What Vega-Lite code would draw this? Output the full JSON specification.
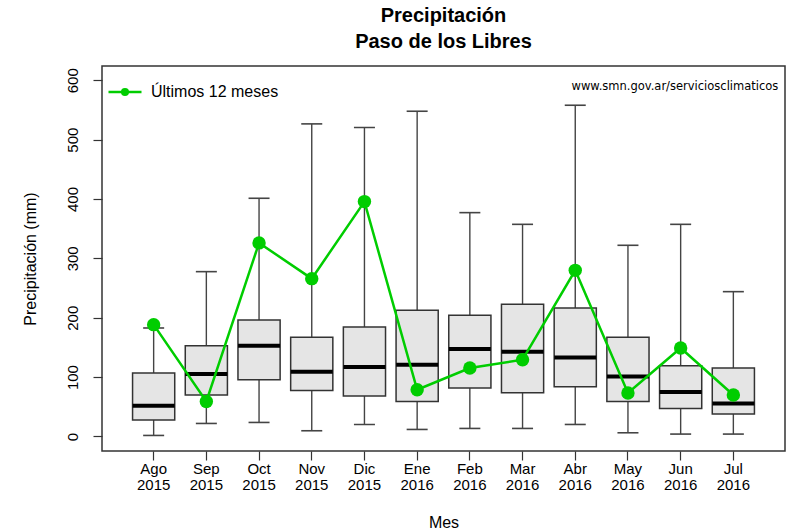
{
  "$schema": "https://vega.github.io/schema/vega-lite/v6.json",
  "width": 683,
  "height": 385,
  "autosize": {"type": "none"},
  "padding": {"left": 102, "top": 66, "right": 11, "bottom": 81},
  "background": "white",
  "config": {
    "font": "Liberation Sans",
    "view": {"stroke": "#333333", "strokeWidth": 1.5},
    "axis": {"labelColor": "#000000", "titleColor": "#000000", "tickColor": "#333333", "domain": false, "grid": false, "labelFont": "Liberation Sans", "titleFont": "Liberation Sans", "titleFontWeight": "normal"}
  },
  "title": {
    "text": ["Precipitación", "Paso de los Libres"],
    "fontSize": 20,
    "fontWeight": "bold",
    "color": "#000000",
    "anchor": "middle",
    "lineHeight": 26,
    "offset": 14
  },
  "data": {
    "values": [
      {"mes": "Ago 2015", "lower": 1.7, "q1": 27.6, "median": 51.7, "q3": 106.9, "upper": 182.7, "actual": 188.3},
      {"mes": "Sep 2015", "lower": 21.9, "q1": 69.8, "median": 105.2, "q3": 152.9, "upper": 277.6, "actual": 59},
      {"mes": "Oct 2015", "lower": 23.6, "q1": 95.6, "median": 152.9, "q3": 196.2, "upper": 401.2, "actual": 326},
      {"mes": "Nov 2015", "lower": 9.6, "q1": 77.5, "median": 109, "q3": 166.9, "upper": 526.5, "actual": 265.8},
      {"mes": "Dic 2015", "lower": 20.2, "q1": 68.1, "median": 117, "q3": 184.4, "upper": 520.3, "actual": 395.6},
      {"mes": "Ene 2016", "lower": 11.8, "q1": 59, "median": 120.8, "q3": 212.4, "upper": 547.8, "actual": 78.7},
      {"mes": "Feb 2016", "lower": 13.5, "q1": 81.6, "median": 147.3, "q3": 204, "upper": 377, "actual": 115.3},
      {"mes": "Mar 2016", "lower": 13.5, "q1": 73.7, "median": 142.8, "q3": 222.5, "upper": 357.3, "actual": 129.3},
      {"mes": "Abr 2016", "lower": 20.2, "q1": 83.8, "median": 133.2, "q3": 216.4, "upper": 557.9, "actual": 279.8},
      {"mes": "May 2016", "lower": 6.2, "q1": 59, "median": 101.1, "q3": 166.9, "upper": 322, "actual": 73.1},
      {"mes": "Jun 2016", "lower": 4, "q1": 47.2, "median": 74.8, "q3": 119.2, "upper": 357.3, "actual": 149},
      {"mes": "Jul 2016", "lower": 4, "q1": 37.8, "median": 55.6, "q3": 115.3, "upper": 243.9, "actual": 69.8}
    ]
  },
  "encoding": {
    "x": {
      "field": "mes",
      "type": "ordinal",
      "sort": null,
      "scale": {"paddingInner": 0, "paddingOuter": 0.48},
      "axis": {
        "title": "Mes",
        "titleFontSize": 16,
        "titlePadding": 22,
        "labelAngle": 0,
        "labelFontSize": 15,
        "labelLineHeight": 16,
        "labelPadding": 1,
        "tickSize": 9,
        "tickWidth": 1.2,
        "labelExpr": "split(datum.value, ' ')"
      }
    }
  },
  "layer": [
    {
      "mark": {"type": "rule", "color": "#444444", "strokeWidth": 1.4},
      "encoding": {
        "y": {
          "field": "lower",
          "type": "quantitative",
          "scale": {"domain": [-24.5, 624], "nice": false, "zero": false},
          "axis": {
            "title": "Precipitación (mm)",
            "titleFontSize": 16,
            "titlePadding": 27,
            "values": [0, 100, 200, 300, 400, 500, 600],
            "labelAngle": -90,
            "labelAlign": "center",
            "labelBaseline": "bottom",
            "labelFontSize": 15,
            "labelPadding": 13,
            "tickSize": 9,
            "tickWidth": 1.2
          }
        },
        "y2": {"field": "upper"}
      }
    },
    {
      "mark": {"type": "tick", "color": "#444444", "opacity": 1, "size": 21, "thickness": 1.6},
      "encoding": {"y": {"field": "lower", "type": "quantitative"}}
    },
    {
      "mark": {"type": "tick", "color": "#444444", "opacity": 1, "size": 21, "thickness": 1.6},
      "encoding": {"y": {"field": "upper", "type": "quantitative"}}
    },
    {
      "mark": {"type": "bar", "width": {"band": 0.8}, "fill": "#E5E5E5", "stroke": "#333333", "strokeWidth": 1.5, "opacity": 1},
      "encoding": {
        "y": {"field": "q1", "type": "quantitative"},
        "y2": {"field": "q3"}
      }
    },
    {
      "mark": {"type": "tick", "color": "#000000", "opacity": 1, "size": 42, "thickness": 4},
      "encoding": {"y": {"field": "median", "type": "quantitative"}}
    },
    {
      "mark": {"type": "line", "strokeWidth": 2.5},
      "encoding": {
        "y": {"field": "actual", "type": "quantitative"},
        "color": {
          "datum": "Últimos 12 meses",
          "type": "nominal",
          "scale": {"range": ["#00CD00"]},
          "legend": {
            "title": null,
            "orient": "none",
            "legendX": 5,
            "legendY": 8,
            "padding": 0,
            "symbolType": "M-1,0H1M0.17,0A0.17,0.17,0,1,1,-0.17,0A0.17,0.17,0,1,1,0.17,0Z",
            "symbolSize": 1089,
            "symbolStrokeWidth": 2.5,
            "symbolFillColor": "#00CD00",
            "symbolStrokeColor": "#00CD00",
            "labelFontSize": 16,
            "labelColor": "#000000",
            "labelOffset": 8,
            "labelFont": "Liberation Sans"
          }
        }
      }
    },
    {
      "mark": {"type": "point", "filled": true, "opacity": 1, "size": 180, "shape": "circle"},
      "encoding": {
        "y": {"field": "actual", "type": "quantitative"},
        "color": {"datum": "Últimos 12 meses", "type": "nominal"}
      }
    },
    {
      "data": {"values": [{"mes": "Jul 2016", "v": 589, "txt": "www.smn.gov.ar/serviciosclimaticos"}]},
      "mark": {"type": "text", "align": "right", "baseline": "middle", "dx": 45, "fontSize": 11.5, "font": "DejaVu Sans", "color": "#000000"},
      "encoding": {
        "y": {"field": "v", "type": "quantitative"},
        "text": {"field": "txt"}
      }
    }
  ]
}
